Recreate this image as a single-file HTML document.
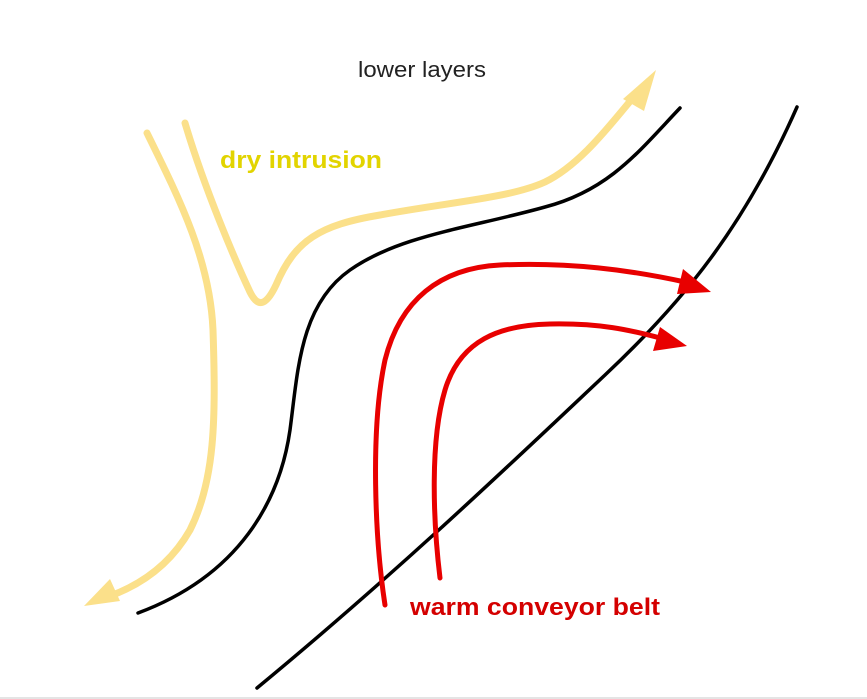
<!DOCTYPE html>
<html><head><meta charset="utf-8"><style>
html,body{margin:0;padding:0;background:#fff;}
svg{display:block;}
</style></head><body>
<svg width="867" height="699" viewBox="0 0 867 699" xmlns="http://www.w3.org/2000/svg">
<rect width="867" height="699" fill="#fff"/>
<g fill="none" stroke-linecap="round" stroke-linejoin="round">
<path d="M185,123 C205,190 235,260 250,292 C258,308 266,306 276,285 C295,240 320,225 380,215 C450,202 510,198 545,182 C580,165 610,125 632,99" stroke="#fbe08a" stroke-width="7"/>
<path d="M147,133 C180,200 210,260 213,330 C216,420 215,480 190,530 C170,565 140,585 110,596" stroke="#fbe08a" stroke-width="7"/>
<path d="M680,108 C640,150 610,190 545,207 C470,228 400,235 350,270 C300,305 298,370 290,430 C280,500 240,575 138,613" stroke="#000" stroke-width="3.5"/>
<path d="M797,107 C745,225 685,300 605,375 C520,455 400,570 257,688" stroke="#000" stroke-width="3.5"/>
<path d="M385,605 C375,540 370,430 385,360 C400,300 440,268 500,265 C570,262 630,270 685,282" stroke="#e80000" stroke-width="5"/>
<path d="M440,578 C433,520 430,440 445,390 C460,340 500,325 550,324 C600,323 630,330 660,338" stroke="#e80000" stroke-width="5"/>
</g>
<polygon points="656,70 623,99 644,111" fill="#fbe08a"/>
<polygon points="84,606 110,579 120,601" fill="#fbe08a"/>
<polygon points="683,269 677,294 711,292" fill="#e80000"/>
<polygon points="660,327 653,351 687,346" fill="#e80000"/>
<text x="358" y="77" font-family="Liberation Sans, sans-serif" font-size="22" fill="#222" textLength="128" lengthAdjust="spacingAndGlyphs">lower layers</text>
<text x="220" y="168" font-family="Liberation Sans, sans-serif" font-size="24" font-weight="bold" fill="#e2d400" textLength="162" lengthAdjust="spacingAndGlyphs">dry intrusion</text>
<text x="410" y="615" font-family="Liberation Sans, sans-serif" font-size="24" font-weight="bold" fill="#d40000" textLength="250" lengthAdjust="spacingAndGlyphs">warm conveyor belt</text>
<line x1="0" y1="698" x2="867" y2="698" stroke="#e4e4e4" stroke-width="2"/>
</svg>
</body></html>
